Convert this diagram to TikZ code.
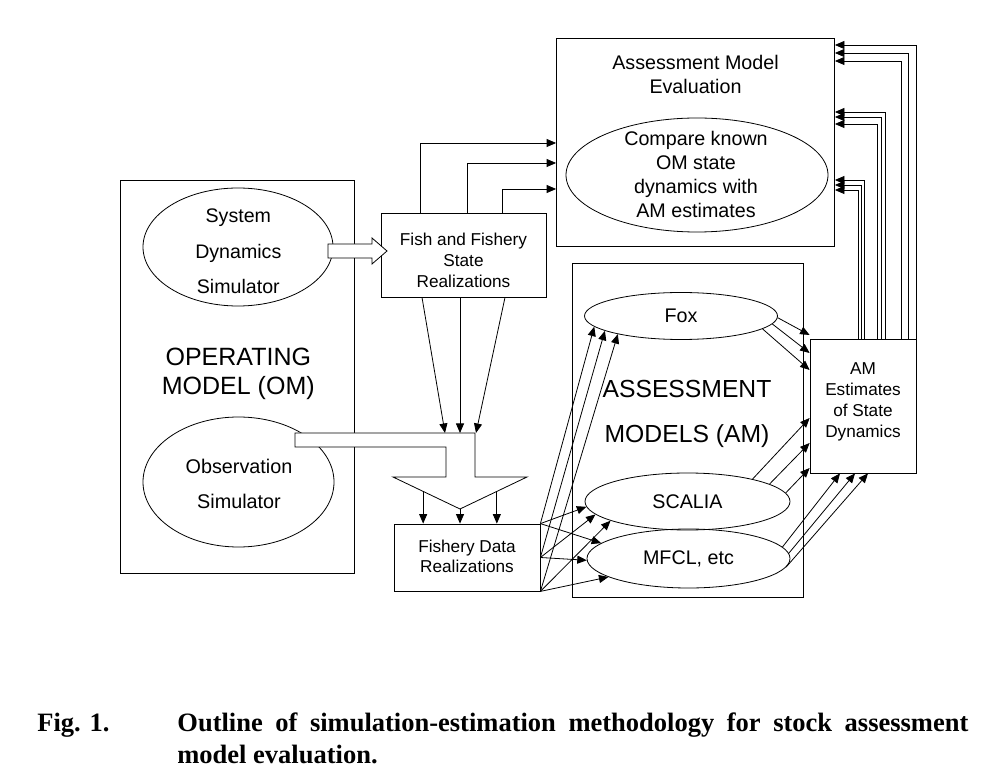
\documentclass[tikz,border=0pt]{standalone}
\usepackage{fontspec}
\setmainfont{Liberation Sans}
\newfontfamily\capfont{Liberation Serif}
\usetikzlibrary{arrows.meta,shapes.geometric,calc}
\begin{document}
\begin{tikzpicture}[x=1pt,y=-1pt,line width=0.8pt,
  arr/.style={-{Triangle[length=9.5pt,width=8pt]}},
  box/.style={draw,rectangle,inner sep=0pt},
  ell/.style={draw,ellipse,inner sep=0pt},
  txt/.style={inner sep=0pt,align=center},
  small/.style={font=\fontsize{17.2}{20.8}\selectfont},
  mid/.style={font=\fontsize{19.7}{24}\selectfont},
  big/.style={font=\fontsize{25}{29}\selectfont},
  captxt/.style={inner sep=0pt,anchor=base west,font=\capfont\bfseries\fontsize{26.5}{32}\selectfont}]
\useasboundingbox[fill=white] (0,0) rectangle (999,783);

% Operating model
\node[box,minimum width=234,minimum height=393] (om) at (237,376.5) {};
\node[ell,minimum width=190,minimum height=118] (sds) at (238,247) {};
\node[txt,font=\fontsize{19.6}{35.8}\selectfont] (sdst) at (238.3,251.3) {System\\Dynamics\\Simulator};
\node[txt,big] (omt) at (238.3,374.3) {OPERATING\\MODEL (OM)};
\node[ell,minimum width=191,minimum height=130] (obs) at (238.5,482) {};
\node[txt,font=\fontsize{19.8}{35}\selectfont] (obst) at (239,483.5) {Observation\\Simulator};

% Fish and fishery state realizations
\node[box,minimum width=165,minimum height=84] (fish) at (463.5,255) {};
\node[txt,font=\fontsize{17.2}{21}\selectfont] (fisht) at (463.5,260.7) {Fish and Fishery\\State\\Realizations};

% Assessment model evaluation
\node[box,minimum width=278,minimum height=208] (ame) at (695.5,142) {};
\node[txt,font=\fontsize{19.7}{23.5}\selectfont] (amet) at (695.5,74.5) {Assessment Model\\Evaluation};
\node[ell,minimum width=262,minimum height=114] (cmp) at (697,175) {};
\node[txt,font=\fontsize{19.7}{24.3}\selectfont] (cmpt) at (696,174.5) {Compare known\\OM state\\dynamics with\\AM estimates};

% Assessment models
\node[box,minimum width=231,minimum height=334] (amb) at (687.5,430) {};
\node[txt,font=\fontsize{24.7}{45.3}\selectfont] (ambt) at (687,414) {ASSESSMENT\\MODELS (AM)};
\node[ell,mid,minimum width=193,minimum height=47] (fox) at (681,316) {Fox};
\node[ell,mid,minimum width=205,minimum height=57] (scalia) at (687.5,501.5) {SCALIA};
\node[ell,mid,minimum width=203,minimum height=59] (mfcl) at (688.5,558.5) {MFCL, etc};

% Fishery data realizations
\node[box,minimum width=146,minimum height=67] (fd) at (467,557.5) {};
\node[txt,font=\fontsize{17.2}{20}\selectfont] (fdt) at (467,556.7) {Fishery Data\\Realizations};

% AM estimates
\node[box,minimum width=106,minimum height=134] (amest) at (863,406) {};
\node[txt,font=\fontsize{17.2}{20.8}\selectfont] (amestt) at (863,402) {AM\\Estimates\\of State\\Dynamics};

% Fish -> evaluation
\draw[arr] (fish.north -| 420,0) |- (ame.west |- 0,143);
\draw[arr] (fish.north -| 467,0) |- (ame.west |- 0,163);
\draw[arr] (fish.north -| 502,0) |- (ame.west |- 0,189);

% merging block arrow
\coordinate (bTL) at (295,433);
\coordinate (bTR) at (475,433);
\coordinate (hR0) at (475,477);
\coordinate (hR) at (527,477);
\coordinate (tip) at (460,509);
\coordinate (hL) at (393,477);
\coordinate (hL0) at (446,477);
\coordinate (bBR) at (446,447);
\coordinate (bBL) at (295,447);
\draw[fill=white] (bTL) -- (bTR) -- (hR0) -- (hR) -- (tip) -- (hL) -- (hL0) -- (bBR) -- (bBL) -- cycle;

% Fish -> merge
\draw[arr] (fish.south -| 422,0) -- (bTR -| 445,0);
\draw[arr] (fish.south -| 460,0) -- (bTR -| 460,0);
\draw[arr] (fish.south -| 505,0) -- (bTR -| 476,0);

% merge -> fishery data
\coordinate (hla) at ($(hL)!0.45!(tip)$);
\coordinate (hra) at ($(hR)!0.45!(tip)$);
\draw[arr] (hla) -- (hla |- fd.north);
\draw[arr] (tip) -- (tip |- fd.north);
\draw[arr] (hra) -- (hra |- fd.north);

% hollow arrow SDS -> fish
\coordinate (ha1) at (328,244);
\coordinate (ha2) at (372,244);
\coordinate (ha3) at (372,238);
\coordinate (ha4) at (387,251);
\coordinate (ha5) at (372,264);
\coordinate (ha6) at (372,258);
\coordinate (ha7) at (328,258);
\draw[fill=white] (ha1) -- (ha2) -- (ha3) -- (ha4) -- (ha5) -- (ha6) -- (ha7) -- cycle;

% Fishery data -> assessment models
\draw[arr] (fd.north east) -- (fox.187);
\draw[arr] (fd.east) -- (fox.191);
\draw[arr] (fd.south east) -- (fox.196);
\draw[arr] (fd.north east) -- (scalia.183);
\draw[arr] (fd.east) -- (scalia.188);
\draw[arr] (fd.south east) -- (scalia.194);
\draw[arr] (fd.north east) -- (mfcl.170);
\draw[arr] (fd.east) -- (mfcl.181);
\draw[arr] (fd.south east) -- (mfcl.193);

% assessment models -> AM estimates
\draw[arr] (fox.-1) -- (amest.west |- 0,335);
\draw[arr] (fox.-5) -- (amest.west |- 0,353);
\draw[arr] (fox.-9.5) -- (amest.west |- 0,370);
\draw[arr] (scalia.19) -- (amest.west |- 0,418);
\draw[arr] (scalia.12.5) -- (amest.west |- 0,443);
\draw[arr] (scalia.5.5) -- (amest.west |- 0,468);
\draw[arr] (mfcl.7) -- (amest.south -| 840,0);
\draw[arr] (mfcl.3) -- (amest.south -| 855,0);
\draw[arr] (mfcl.-5) -- (amest.south -| 868,0);

% AM estimates -> evaluation
\draw[arr] (amest.north -| 858,0) |- (ame.east |- 0,190);
\draw[arr] (amest.north -| 861,0) |- (ame.east |- 0,185);
\draw[arr] (amest.north -| 864,0) |- (ame.east |- 0,180);
\draw[arr] (amest.north -| 877,0) |- (ame.east |- 0,124);
\draw[arr] (amest.north -| 881,0) |- (ame.east |- 0,117);
\draw[arr] (amest.north -| 885,0) |- (ame.east |- 0,112);
\draw[arr] (amest.north -| 901,0) |- (ame.east |- 0,61);
\draw[arr] (amest.north -| 908,0) |- (ame.east |- 0,53);
\draw[arr] (amest.north -| 916,0) |- (ame.east |- 0,45);

% caption
\node[captxt] (c1) at (37,731) {Fig. 1.};
\node[captxt] (c2) at (177,731) {\makebox[791pt][s]{Outline of simulation-estimation methodology for stock assessment}};
\node[captxt] (c3) at (177,763) {model evaluation.};
\end{tikzpicture}
\end{document}
